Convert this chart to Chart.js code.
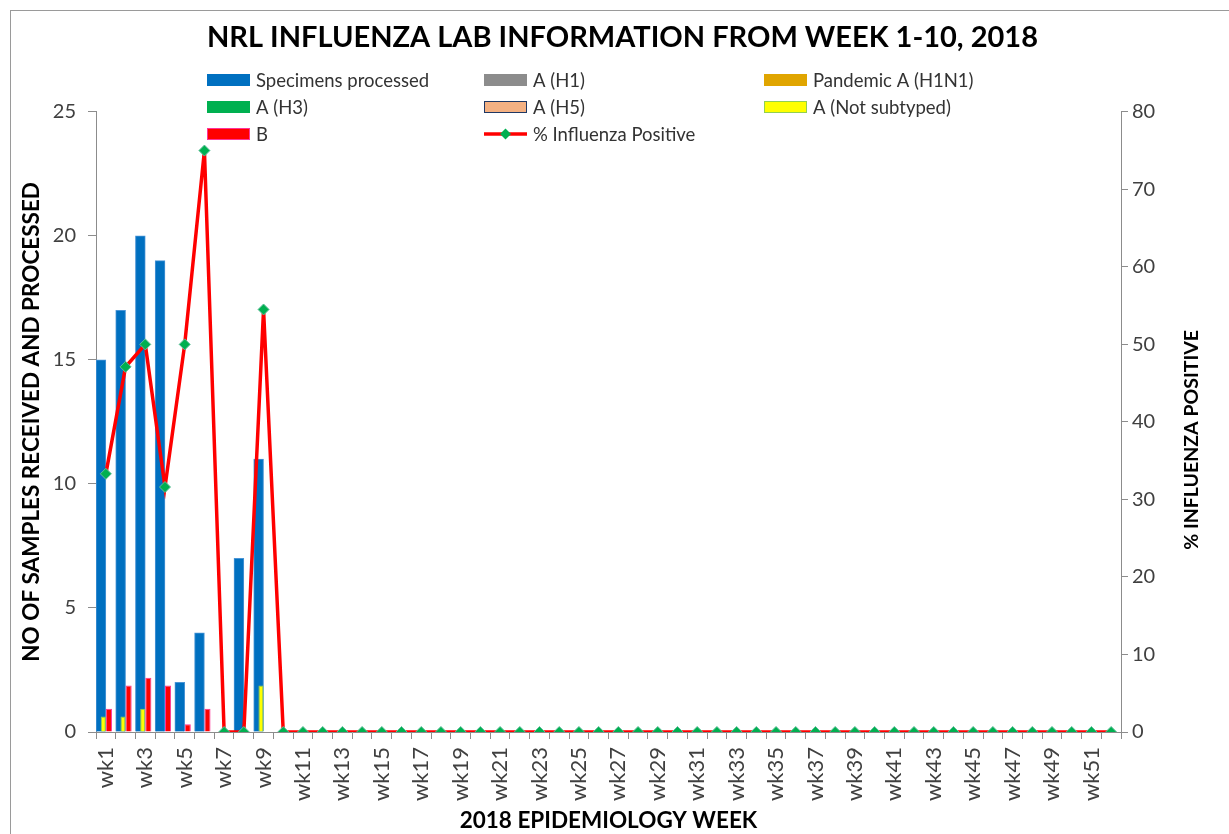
<!DOCTYPE html>
<html>
<head>
<meta charset="utf-8">
<script src="https://cdn.jsdelivr.net/npm/chart.js@4.4.1/dist/chart.umd.min.js"></script>
<style>
  html, body { margin: 0; padding: 0; background: #fff; }
</style>
</head>
<body>
<canvas id="fluChart" width="1229" height="834"></canvas>
<script>
const weeks = Array.from({ length: 52 }, (_, i) => 'wk' + (i + 1));

const specimens = [15, 17, 20, 19, 2, 4, 0, 7, 11, 0, 0, 0, 0, 0, 0, 0, 0, 0, 0, 0, 0, 0, 0, 0, 0, 0,
    0, 0, 0, 0, 0, 0, 0, 0, 0, 0, 0, 0, 0, 0, 0, 0, 0, 0, 0, 0, 0, 0, 0, 0, 0, 0];
const notSubtyped = [2, 2, 3, 0, 0, 0, 0, 0, 6, 0, 0, 0, 0, 0, 0, 0, 0, 0, 0, 0, 0, 0, 0, 0, 0, 0,
    0, 0, 0, 0, 0, 0, 0, 0, 0, 0, 0, 0, 0, 0, 0, 0, 0, 0, 0, 0, 0, 0, 0, 0, 0, 0];
const fluB = [3, 6, 7, 6, 1, 3, 0, 0, 0, 0, 0, 0, 0, 0, 0, 0, 0, 0, 0, 0, 0, 0, 0, 0, 0, 0,
    0, 0, 0, 0, 0, 0, 0, 0, 0, 0, 0, 0, 0, 0, 0, 0, 0, 0, 0, 0, 0, 0, 0, 0, 0, 0];
const pctPositive = [33.3, 47.1, 50, 31.6, 50, 75, 0, 0, 54.5, 0, 0, 0, 0, 0, 0, 0, 0, 0, 0, 0, 0, 0, 0, 0, 0, 0,
    0, 0, 0, 0, 0, 0, 0, 0, 0, 0, 0, 0, 0, 0, 0, 0, 0, 0, 0, 0, 0, 0, 0, 0, 0, 0];

const leftTicks = [0, 5, 10, 15, 20, 25];
const rightTicks = [0, 10, 20, 30, 40, 50, 60, 70, 80];

const axisGray = '#8c8c8c';
const tickColor = '#404040';

Chart.defaults.font.family = 'Lato';

// white background + the grey chart-area frame
const frame = {
    id: 'frame',
    beforeDraw(chart) {
        const c = chart.ctx;
        c.save();
        c.fillStyle = '#fff';
        c.fillRect(0, 0, chart.width, chart.height);
        c.strokeStyle = '#9a9a9a';
        c.lineWidth = 1;
        c.strokeRect(10.5, 10.5, 1400, 1000);
        c.restore();
    }
};

// right axis title reads bottom-to-top like the left one
const rightTitle = {
    id: 'rightTitle',
    afterDraw(chart) {
        const s = chart.scales.y1;
        const c = chart.ctx;
        const x = s.right - 37;
        const y = (s.top + s.bottom) / 2 + 18;
        c.save();
        c.translate(x, y);
        c.rotate(-Math.PI / 2);
        c.font = 'bold 19.5px Lato';
        c.fillStyle = '#000';
        c.textAlign = 'center';
        c.textBaseline = 'middle';
        c.fillText('% INFLUENZA POSITIVE', 0, 0);
        c.restore();
    }
};

// three-column legend laid over the top of the plot
const legendGrid = {
    id: 'legendGrid',
    afterDraw(chart) {
        const c = chart.ctx;
        const cols = [207, 484, 764];
        const rows = [80, 107, 134];
        const names = ['Specimens processed', 'A (H1)', 'Pandemic A (H1N1)',
            'A (H3)', 'A (H5)', 'A (Not subtyped)', 'B', '% Influenza Positive'];
        c.save();
        c.font = '18.5px Lato';
        c.textBaseline = 'middle';
        names.forEach((name, i) => {
            const ds = chart.data.datasets.find(d => d.label === name);
            const x = cols[i % 3];
            const y = rows[Math.floor(i / 3)];
            if (ds.type === 'line') {
                c.strokeStyle = ds.borderColor;
                c.lineWidth = 3.5;
                c.beginPath();
                c.moveTo(x, y);
                c.lineTo(x + 43, y);
                c.stroke();
                c.fillStyle = ds.pointBackgroundColor;
                c.beginPath();
                c.moveTo(x + 21.5, y - 5.5);
                c.lineTo(x + 27, y);
                c.lineTo(x + 21.5, y + 5.5);
                c.lineTo(x + 16, y);
                c.closePath();
                c.fill();
            } else {
                c.fillStyle = ds.backgroundColor;
                c.fillRect(x, y - 6, 43, 12);
                if (ds.legendBorder) {
                    c.strokeStyle = ds.legendBorder;
                    c.lineWidth = 1;
                    c.strokeRect(x + 0.5, y - 5.5, 42, 11);
                }
            }
            c.fillStyle = '#333';
            c.fillText(name, x + 49, y + 1);
        });
        c.restore();
    }
};

// two slots per week: 'L' holds the specimens bar, 'R' the right half;
// per-dataset percentages place the small bars inside them
const data = {
    labels: weeks,
    datasets: [
        {
            type: 'line',
            label: '% Influenza Positive',
            data: pctPositive,
            yAxisID: 'y1',
            order: 0,
            borderColor: '#FF0000',
            borderWidth: 3.5,
            pointStyle: 'rectRot',
            pointRadius: 5.5,
            pointBackgroundColor: '#00B050',
            pointBorderColor: '#5fbf9a',
            pointBorderWidth: 1,
            tension: 0
        },
        {
            type: 'bar',
            label: 'A (Not subtyped)',
            data: notSubtyped,
            yAxisID: 'y1',
            stack: 'L',
            order: 1,
            backgroundColor: '#FFFF00',
            borderColor: '#92D050',
            borderWidth: 1,
            legendBorder: '#92D050',
            categoryPercentage: 0.52,
            barPercentage: 1
        },
        {
            type: 'bar',
            label: 'B',
            data: fluB,
            yAxisID: 'y1',
            stack: 'R',
            order: 1,
            backgroundColor: '#FF0000',
            borderColor: '#FF3399',
            borderWidth: 1,
            legendBorder: '#FF3399',
            categoryPercentage: 0.62,
            barPercentage: 1
        },
        {
            type: 'bar',
            label: 'Specimens processed',
            data: specimens,
            yAxisID: 'y',
            stack: 'L',
            order: 2,
            backgroundColor: '#0070C0',
            borderColor: '#4a95d6',
            borderWidth: 1,
            categoryPercentage: 1,
            barPercentage: 1
        },
        { type: 'bar', label: 'A (H1)', data: [], yAxisID: 'y1', stack: 'L', grouped: false, backgroundColor: '#8C8C8C' },
        { type: 'bar', label: 'Pandemic A (H1N1)', data: [], yAxisID: 'y1', stack: 'L', grouped: false, backgroundColor: '#E0A500' },
        { type: 'bar', label: 'A (H3)', data: [], yAxisID: 'y1', stack: 'L', grouped: false, backgroundColor: '#00B050' },
        { type: 'bar', label: 'A (H5)', data: [], yAxisID: 'y1', stack: 'L', grouped: false, backgroundColor: '#F4B183', legendBorder: '#1F3864' }
    ]
};

const config = {
    type: 'bar',
    data: data,
    plugins: [frame, rightTitle, legendGrid],
    options: {
        responsive: false,
        animation: false,
        layout: {
            padding: { left: 16, right: 0, top: 0, bottom: 0 }
        },
        plugins: {
            legend: { display: false },
            tooltip: { enabled: false },
            title: {
                display: true,
                text: 'NRL INFLUENZA LAB INFORMATION FROM WEEK 1-10, 2018',
                color: '#000',
                font: { size: 29, weight: 'bold' },
                padding: { top: 20, bottom: 57 }
            }
        },
        scales: {
            x: {
                type: 'category',
                offset: true,
                afterFit: (s) => { s.height = 102; },
                grid: {
                    offset: true,
                    drawOnChartArea: false,
                    tickLength: 7,
                    color: axisGray
                },
                border: { color: axisGray },
                ticks: {
                    autoSkip: false,
                    minRotation: 90,
                    maxRotation: 90,
                    padding: 8,
                    color: tickColor,
                    font: { size: 22 },
                    callback: (v, i) => (i % 2 === 0 ? weeks[i] : '')
                },
                title: {
                    display: true,
                    text: '2018 EPIDEMIOLOGY WEEK',
                    color: '#000',
                    font: { size: 22.5, weight: 'bold' },
                    padding: { top: 4, bottom: 0 }
                }
            },
            y: {
                position: 'left',
                min: 0,
                max: 25,
                afterBuildTicks: (s) => { s.ticks = leftTicks.map(v => ({ value: v })); },
                afterFit: (s) => { s.width = 80; },
                grid: {
                    drawOnChartArea: false,
                    tickLength: 8,
                    color: axisGray
                },
                border: { color: axisGray },
                ticks: {
                    padding: 12,
                    color: tickColor,
                    font: { size: 20 }
                },
                title: {
                    display: true,
                    text: 'NO OF SAMPLES RECEIVED AND PROCESSED',
                    color: '#000',
                    font: { size: 22.5, weight: 'bold' },
                    padding: { top: 2, bottom: 4 }
                }
            },
            y1: {
                position: 'right',
                min: 0,
                max: 80,
                afterBuildTicks: (s) => { s.ticks = rightTicks.map(v => ({ value: v })); },
                afterFit: (s) => { s.width = 108; },
                grid: {
                    drawOnChartArea: false,
                    tickLength: 7,
                    color: axisGray
                },
                border: { color: axisGray },
                ticks: {
                    padding: 4,
                    color: tickColor,
                    font: { size: 20 }
                }
            }
        }
    }
};

new Chart(document.getElementById('fluChart').getContext('2d'), config);
</script>
</body>
</html>
